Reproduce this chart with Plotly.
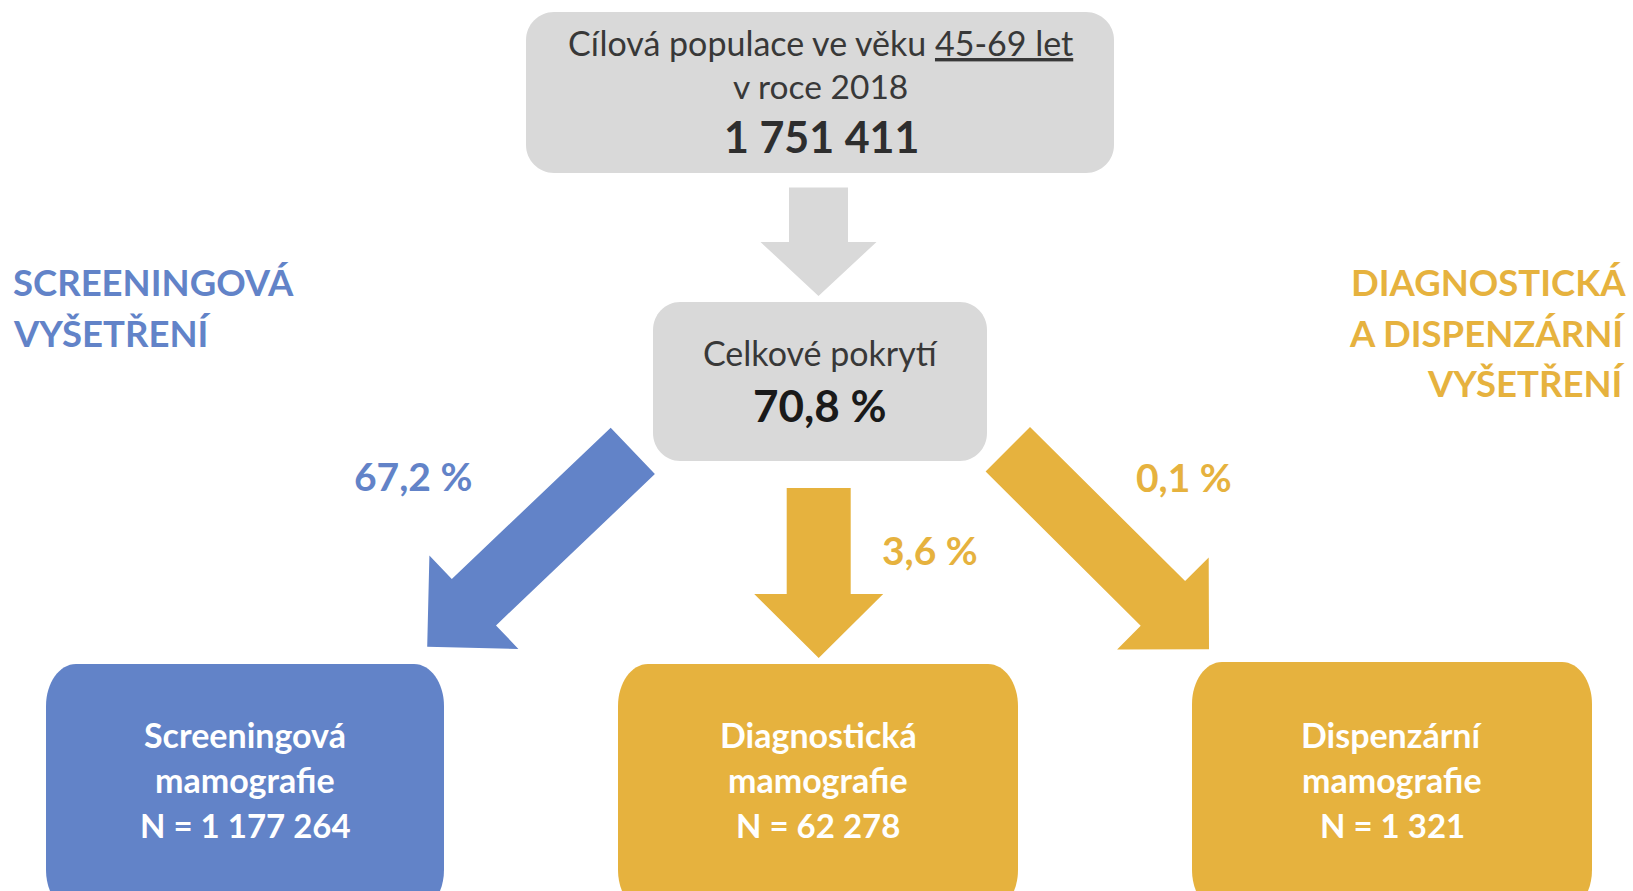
import plotly.graph_objects as go

# ---------------- data ----------------
target_title = "Cílová populace ve věku"
target_age = "45-69 let"
target_year = "v roce 2018"
target_population = 1751411
coverage_label = "Celkové pokrytí"
coverage_pct = 70.8
branch_names = ["Screeningová", "Diagnostická", "Dispenzární"]
branch_sub = ["mamografie", "mamografie", "mamografie"]
branch_n = [1177264, 62278, 1321]
branch_pct = [67.2, 3.6, 0.1]
group_left = ["SCREENINGOVÁ", "VYŠETŘENÍ"]
group_right = ["DIAGNOSTICKÁ", "A DISPENZÁRNÍ", "VYŠETŘENÍ"]

# ---------------- style ----------------
W, H = 1633, 891
GRAY = "#D9D9D9"
BLUE = "#6283C8"
GOLD = "#E6B23E"
DARK = "#383838"
FONT = "Lato"
branch_colors = [BLUE, GOLD, GOLD]


def fmt_int(v):
    return f"{v:,}".replace(",", " ")


def fmt_pct(v):
    return f"{v:.1f}".replace(".", ",") + " %"


def rrect(x0, y0, x1, y1, rx, ry):
    k = 0.5523
    return (f"M {x0+rx},{y0} L {x1-rx},{y0} "
            f"C {x1-rx+rx*k},{y0} {x1},{y0+ry-ry*k} {x1},{y0+ry} "
            f"L {x1},{y1-ry} "
            f"C {x1},{y1-ry+ry*k} {x1-rx+rx*k},{y1} {x1-rx},{y1} "
            f"L {x0+rx},{y1} "
            f"C {x0+rx-rx*k},{y1} {x0},{y1-ry+ry*k} {x0},{y1-ry} "
            f"L {x0},{y0+ry} "
            f"C {x0},{y0+ry-ry*k} {x0+rx-rx*k},{y0} {x0+rx},{y0} Z")


def arrow(tail, tip, sw, hw, hl):
    dx, dy = tip[0] - tail[0], tip[1] - tail[1]
    L = (dx * dx + dy * dy) ** 0.5
    ux, uy = dx / L, dy / L
    px, py = -uy, ux
    bx, by = tip[0] - ux * hl, tip[1] - uy * hl
    pts = [
        (tail[0] + px * sw / 2, tail[1] + py * sw / 2),
        (bx + px * sw / 2, by + py * sw / 2),
        (bx + px * hw / 2, by + py * hw / 2),
        tip,
        (bx - px * hw / 2, by - py * hw / 2),
        (bx - px * sw / 2, by - py * sw / 2),
        (tail[0] - px * sw / 2, tail[1] - py * sw / 2),
    ]
    return "M " + " L ".join(f"{x:.1f},{y:.1f}" for x, y in pts) + " Z"


shapes = []
annotations = []


def add_shape(path, color):
    shapes.append(dict(type="path", path=path, xref="x", yref="y",
                       fillcolor=color, line=dict(width=0), layer="below"))


def add_text(x, y, text, size, color, bold=False, xanchor="center"):
    if bold:
        text = f"<b>{text}</b>"
    annotations.append(dict(x=x, y=y, xref="x", yref="y", text=text,
                            showarrow=False, xanchor=xanchor, yanchor="middle",
                            font=dict(family=FONT, size=size, color=color)))


# top box
add_shape(rrect(526, 12, 1114, 173, 28, 28), GRAY)
add_text(820, 42,
         f"{target_title} <span style='text-decoration:underline'>{target_age}</span>",
         34, DARK)
add_text(820, 86, target_year, 33.5, DARK)
add_text(821, 136.5, fmt_int(target_population), 43, "#2E2E2E", bold=True)

# gray arrow
add_shape(arrow((818.5, 187.5), (818.5, 296), 59, 116, 54), GRAY)

# middle box
add_shape(rrect(653, 302, 987, 461, 27, 28), GRAY)
add_text(820, 352.5, coverage_label, 34, DARK)
add_text(820, 405, fmt_pct(coverage_pct), 44, "#1A1A1A", bold=True)

# branch arrows
arrow_defs = [
    ((632.8, 450.9), (427.2, 646.7), 64, 129, 64.5),
    ((818.7, 488), (818.7, 658), 64, 129, 64),
    ((1007.8, 449.2), (1209, 649.3), 63, 130, 65),
]
pct_pos = [(413, 475.5), (930, 549.5), (1184, 476.5)]
for (tail, tip, sw, hw, hl), col, p, (px_, py_) in zip(arrow_defs, branch_colors, branch_pct, pct_pos):
    add_shape(arrow(tail, tip, sw, hw, hl), col)
    add_text(px_, py_, fmt_pct(p), 39, col, bold=True)

# bottom boxes
box_x = [(46, 444), (618, 1018), (1192, 1592)]
box_top = [664, 664, 662]
for (x0, x1), y0, col, nm, sub, n in zip(box_x, box_top, branch_colors, branch_names, branch_sub, branch_n):
    add_shape(rrect(x0, y0, x1, 912, 30, 42), col)
    cx = (x0 + x1) / 2
    add_text(cx, 734.5, nm, 34, "white", bold=True)
    add_text(cx, 779.5, sub, 34, "white", bold=True)
    add_text(cx, 825, f"N = {fmt_int(n)}", 33, "white", bold=True)

# group titles
for i, t in enumerate(group_left):
    add_text(11, 282 + i * 51, t, 36.5, BLUE, bold=True, xanchor="left")
for i, t in enumerate(group_right):
    add_text(1628, 282 + i * 50.5, t, 36.5, GOLD, bold=True, xanchor="right")

fig = go.Figure()
fig.update_layout(
    width=W, height=H,
    margin=dict(l=0, r=0, t=0, b=0),
    paper_bgcolor="white", plot_bgcolor="white",
    xaxis=dict(range=[0, W], visible=False, fixedrange=True),
    yaxis=dict(range=[H, 0], visible=False, fixedrange=True),
    shapes=shapes, annotations=annotations,
    showlegend=False,
)
fig.write_html("out.html", config={"displayModeBar": False},
               post_script="document.body.style.margin='0';document.body.style.overflow='hidden';")
